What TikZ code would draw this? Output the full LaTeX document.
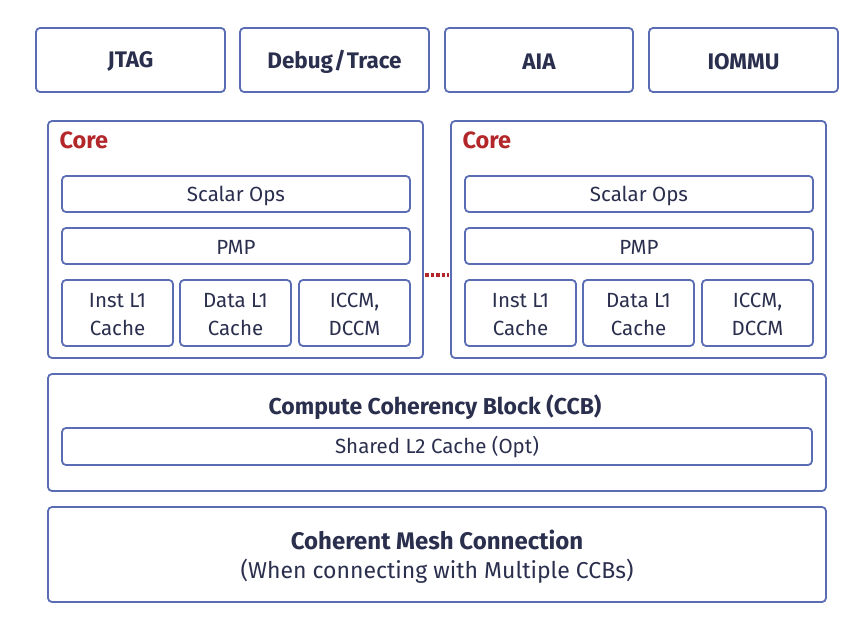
\documentclass[tikz,border=0pt]{standalone}
\usepackage{fontspec}
\setmainfont{Fira Sans}
\usetikzlibrary{positioning}
\definecolor{edge}{HTML}{5A6DB4}
\definecolor{ink}{HTML}{2B2F4E}
\definecolor{corered}{HTML}{B3262A}
\begin{document}
\begin{tikzpicture}[x=1pt,y=-1pt,
  blk/.style={draw=edge,line width=1.8pt,rounded corners=4pt,fill=white},
  lbl/.style={text=ink,font=\fontsize{22.5}{26}\selectfont\bfseries,yshift=-1.5pt},
  inner/.style={text=ink,font=\fontsize{20.5}{28}\selectfont,align=center,yshift=-1.5pt},
  corelbl/.style={text=corered,font=\fontsize{23.5}{26}\selectfont\bfseries,anchor=west}]
\useasboundingbox (0,0) rectangle (859,621);
% top row
\draw[blk] (36,28) rectangle (225,92);
\node[lbl] (jtag) at (130.5,60) {JTAG};
\draw[blk] (240,28) rectangle (429,92);
\node[lbl] (dbg) at (334.5,60) {Debug\kern1pt/\kern1ptTrace};
\draw[blk] (445,28) rectangle (633,92);
\node[lbl] (aia) at (539,60) {AIA};
\draw[blk] (649,28) rectangle (838,92);
\node[lbl] (iommu) at (743.5,60) {IOMMU};
% cores
\foreach \dx/\nm in {0/a,403/b}{
  \begin{scope}[xshift=\dx]
  \draw[blk] (48,121) rectangle (423,358);
  \node[corelbl] (core\nm) at (56,140) {Core};
  \draw[blk] (62,176) rectangle (410,212);
  \node[inner] (sc\nm) at (236,194) {Scalar Ops};
  \draw[blk] (62,228) rectangle (410,264);
  \node[inner] (pmp\nm) at (236,246) {PMP};
  \draw[blk] (62,280) rectangle (173,346);
  \node[inner] (il\nm) at (117.5,313) {Inst L1\\Cache};
  \draw[blk] (180,280) rectangle (291,346);
  \node[inner] (dl\nm) at (235.5,313) {Data L1\\Cache};
  \draw[blk] (299,280) rectangle (410,346);
  \node[inner] (cc\nm) at (354.5,313) {ICCM,\\DCCM};
  \end{scope}
}
\coordinate (d1) at (425,275);
\coordinate (d2) at (449,275);
\draw[corered,line width=4pt,dash pattern=on 3.5pt off 2pt] (d1) -- (d2);
% CCB
\draw[blk] (48,374) rectangle (826,491);
\node[lbl,font=\fontsize{23}{26}\selectfont\bfseries] (ccb) at (435,406) {Compute Coherency Block (CCB)};
\draw[blk] (62,428) rectangle (812,465);
\node[inner] (l2) at (437,446) {Shared L2 Cache (Opt)};
% Mesh
\draw[blk] (48,507) rectangle (826,602);
\node[lbl,font=\fontsize{24}{28}\selectfont\bfseries] (mesh) at (437,538) {Coherent Mesh Connection};
\node[inner,font=\fontsize{23}{27}\selectfont] (meshsub) at (437,570) {(When connecting with Multiple CCBs)};
\end{tikzpicture}
\end{document}
